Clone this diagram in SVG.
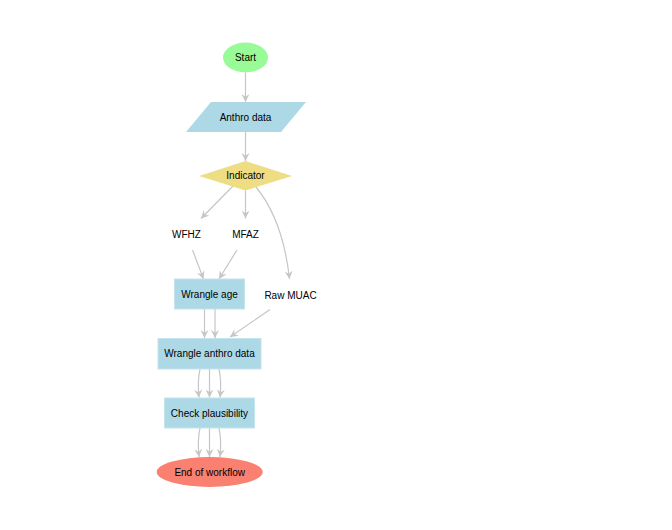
<svg xmlns="http://www.w3.org/2000/svg" width="672" height="530" viewBox="0 0 672 530">
<style>
text{font-family:"Liberation Sans",Arial,sans-serif;font-size:10px;fill:#000;text-anchor:middle;dominant-baseline:central}
.e{fill:none;stroke:#c6c6c6;stroke-width:1.2;marker-end:url(#ah)}
.box{fill:#add8e6;stroke:#c4e4ee;stroke-width:1}
</style>
<defs>
<marker id="ah" viewBox="0 0 10 10" refX="10" refY="5" markerWidth="8" markerHeight="8" markerUnits="userSpaceOnUse" orient="auto">
<path d="M0,0 L10,5 L0,10 L3.5,5 Z" fill="#c6c6c6"/>
</marker>
</defs>
<rect width="672" height="530" fill="#fff"/>
<g id="edges">
<path class="e" d="M245.5,72.5 L245.5,102"/>
<path class="e" d="M245.5,132 L245.5,161"/>
<path class="e" d="M233,186 L201,218.5"/>
<path class="e" d="M245.5,190.5 L245.5,218.5"/>
<path class="e" d="M256,187 Q283,220 289.5,279"/>
<path class="e" d="M192.5,250 L203.5,279"/>
<path class="e" d="M237,250 L219,279"/>
<path class="e" d="M204.5,309 L204.5,338"/>
<path class="e" d="M215,309 L215,338"/>
<path class="e" d="M270,309.5 L230,337"/>
<path class="e" d="M200,369 C198,378 198,388 199,397.5"/>
<path class="e" d="M209.5,369 L209.5,397.5"/>
<path class="e" d="M219,369 C221,378 221,388 220,397.5"/>
<path class="e" d="M200,428 C198,437 198,447 199,457"/>
<path class="e" d="M209.5,428 L209.5,457"/>
<path class="e" d="M219,428 C221,437 221,447 220,457"/>
</g>
<g id="start"><ellipse cx="245.5" cy="57.5" rx="22.5" ry="15" fill="#98fb98"/><text x="245.5" y="57.5">Start</text></g>
<g id="anthro"><polygon points="211,102 306,102 281,132 186,132" fill="#add8e6"/><text x="245.5" y="117">Anthro data</text></g>
<g id="indicator"><polygon points="245.5,161 292,176 245.5,190.5 199,176" fill="#eedd82"/><text x="245.5" y="175.5">Indicator</text></g>
<g id="wfhz"><text x="186.5" y="234.5">WFHZ</text></g>
<g id="mfaz"><text x="245.5" y="234.5">MFAZ</text></g>
<g id="rawmuac"><text x="290.5" y="295">Raw MUAC</text></g>
<g id="wrangleage"><rect class="box" x="174.5" y="279" width="70" height="30"/><text x="209.5" y="294.5">Wrangle age</text></g>
<g id="wrangleanthro"><rect class="box" x="158" y="338.5" width="103" height="30.5"/><text x="209.5" y="353.5">Wrangle anthro data</text></g>
<g id="check"><rect class="box" x="164.5" y="398" width="90" height="30"/><text x="209.5" y="413">Check plausibility</text></g>
<g id="end"><ellipse cx="209.7" cy="472" rx="53" ry="15" fill="#fa8072"/><text x="209.7" y="472">End of workflow</text></g>
</svg>
